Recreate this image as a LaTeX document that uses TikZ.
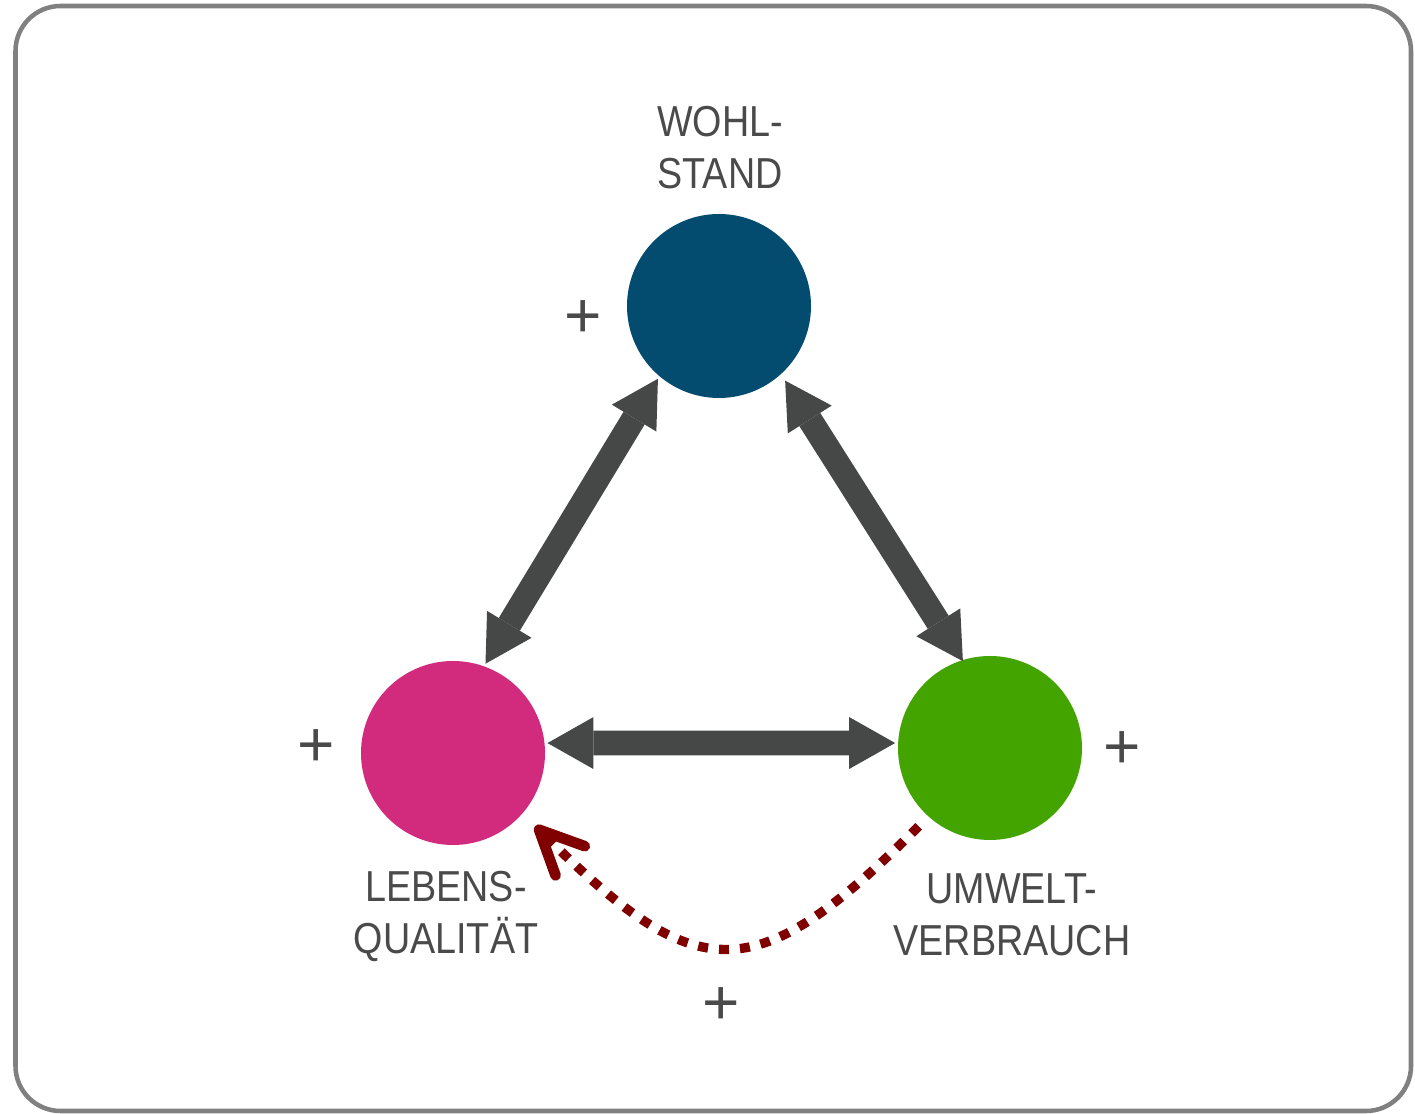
\documentclass[tikz,border=0pt]{standalone}
\usepackage{fontspec}
\setmainfont{Liberation Sans}
\newfontfamily\labelfont[FakeStretch=0.87]{Liberation Sans}
\usetikzlibrary{arrows.meta}
\definecolor{wohlblue}{HTML}{044B70}
\definecolor{lebenspink}{HTML}{D22B7E}
\definecolor{umweltgreen}{HTML}{43A400}
\definecolor{linkgray}{HTML}{464847}
\definecolor{textgray}{HTML}{4A4A4A}
\definecolor{feedred}{HTML}{800000}
\definecolor{framegray}{HTML}{808080}
\begin{document}
\begin{tikzpicture}[x=0.75pt,y=0.75pt,
  hub/.style={circle, minimum size=138pt, inner sep=0pt, outer sep=2.25pt, draw=none},
  caption/.style={font=\labelfont\fontsize{32.5pt}{39pt}\selectfont, text=textgray, align=center, inner sep=0pt},
  plussign/.style={font=\fontsize{48pt}{48pt}\selectfont, text=textgray, inner sep=0pt},
  link/.style={draw=linkgray, line width=18.5pt,
    {Triangle[length=34.5pt,width=39pt,line width=0pt]}-{Triangle[length=34.5pt,width=39pt,line width=0pt]}},
  feedback/.style={draw=feedred, line width=7pt, dash pattern=on 7.5pt off 8.25pt,
    -{Straight Barb[length=33pt,width=31pt,round,line width=8pt]}}
]
\useasboundingbox (0,0) rectangle (1415,1114);
% outer frame
\draw[framegray, line width=3.4pt, rounded corners=33.75pt] (15.5,3) rectangle (1411,1108);

% the three hubs
\node[hub, fill=wohlblue]    (wohl)   at (719,808) {};
\node[hub, fill=lebenspink]  (leben)  at (453,361) {};
\node[hub, fill=umweltgreen] (umwelt) at (990,366) {};

% captions
\node[caption] (wohltext)   at (720,966) {WOHL-\\STAND};
\node[caption] (lebentext)  at (446,198) {LEBENS-\\QUALITÄT};
\node[caption] (umwelttext) at (1012,199) {UMWELT-\\VERBRAUCH};

% plus signs
\node[plussign] (pluswohl)   at (583,795) {+};
\node[plussign] (plusleben)  at (316,366) {+};
\node[plussign] (plusumwelt) at (1122,364) {+};
\node[plussign] (plusloop)   at (721,108) {+};

% mutual links
\draw[link] (wohl.230.4) -- (leben.70.2);
\draw[link, shorten <=3.6pt, shorten >=-3.15pt] (wohl.312.2) -- (umwelt.108.6);
\draw[link] (leben.6.1) -- (umwelt.177);

% feedback loop
\draw[feedback, shorten <=8.25pt, shorten >=11.25pt]
  (umwelt.228) to[out=225, in=-45, looseness=1.55] (leben.319);
\end{tikzpicture}
\end{document}
